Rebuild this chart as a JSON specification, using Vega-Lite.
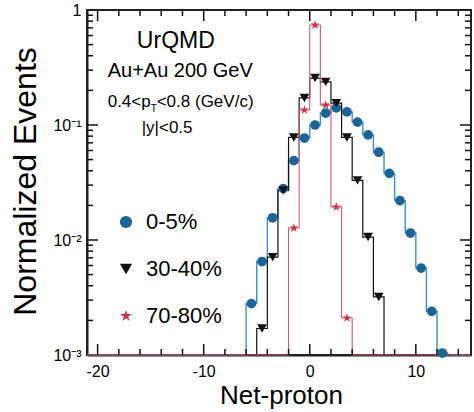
{
  "$schema": "https://vega.github.io/schema/vega-lite/v6.json",
  "width": 384,
  "height": 345,
  "autosize": "none",
  "padding": {"left": 87, "top": 10, "right": 3, "bottom": 57},
  "background": "white",
  "config": {
    "font": "Liberation Sans",
    "view": {"stroke": "#222222", "strokeWidth": 2},
    "axis": {"domainColor": "#222222", "domainWidth": 2, "tickColor": "black", "labelColor": "black", "titleColor": "black", "labelFont": "Liberation Sans", "titleFont": "Liberation Sans", "titleFontWeight": "normal", "grid": false},
    "text": {"font": "Liberation Sans", "color": "black"}
  },
  "datasets": {
    "hist": [
      {"series": "0-5%", "x": -21, "y": 0.001},
      {"series": "0-5%", "x": -6.5, "y": 0.001},
      {"series": "0-5%", "x": -5.5, "y": 0.0028},
      {"series": "0-5%", "x": -4.5, "y": 0.0065},
      {"series": "0-5%", "x": -3.5, "y": 0.0156},
      {"series": "0-5%", "x": -2.5, "y": 0.028},
      {"series": "0-5%", "x": -1.5, "y": 0.049},
      {"series": "0-5%", "x": -0.5, "y": 0.077},
      {"series": "0-5%", "x": 0.5, "y": 0.1},
      {"series": "0-5%", "x": 1.5, "y": 0.127},
      {"series": "0-5%", "x": 2.5, "y": 0.141},
      {"series": "0-5%", "x": 3.5, "y": 0.13},
      {"series": "0-5%", "x": 4.5, "y": 0.106},
      {"series": "0-5%", "x": 5.5, "y": 0.082},
      {"series": "0-5%", "x": 6.5, "y": 0.058},
      {"series": "0-5%", "x": 7.5, "y": 0.038},
      {"series": "0-5%", "x": 8.5, "y": 0.022},
      {"series": "0-5%", "x": 9.5, "y": 0.0115},
      {"series": "0-5%", "x": 10.5, "y": 0.0057},
      {"series": "0-5%", "x": 11.5, "y": 0.0024},
      {"series": "0-5%", "x": 12.5, "y": 0.00104},
      {"series": "0-5%", "x": 13.5, "y": 0.001},
      {"series": "0-5%", "x": 15.2, "y": 0.001},
      {"series": "30-40%", "x": -21, "y": 0.001},
      {"series": "30-40%", "x": -5.5, "y": 0.001},
      {"series": "30-40%", "x": -4.5, "y": 0.0017},
      {"series": "30-40%", "x": -3.5, "y": 0.0071},
      {"series": "30-40%", "x": -2.5, "y": 0.027},
      {"series": "30-40%", "x": -1.5, "y": 0.078},
      {"series": "30-40%", "x": -0.5, "y": 0.172},
      {"series": "30-40%", "x": 0.5, "y": 0.256},
      {"series": "30-40%", "x": 1.5, "y": 0.237},
      {"series": "30-40%", "x": 2.5, "y": 0.155},
      {"series": "30-40%", "x": 3.5, "y": 0.078},
      {"series": "30-40%", "x": 4.5, "y": 0.033},
      {"series": "30-40%", "x": 5.5, "y": 0.0106},
      {"series": "30-40%", "x": 6.5, "y": 0.0032},
      {"series": "30-40%", "x": 7.5, "y": 0.001},
      {"series": "30-40%", "x": 15.2, "y": 0.001},
      {"series": "70-80%", "x": -21, "y": 0.001},
      {"series": "70-80%", "x": -2.5, "y": 0.001},
      {"series": "70-80%", "x": -1.5, "y": 0.0127},
      {"series": "70-80%", "x": -0.5, "y": 0.135},
      {"series": "70-80%", "x": 0.5, "y": 0.74},
      {"series": "70-80%", "x": 1.5, "y": 0.149},
      {"series": "70-80%", "x": 2.5, "y": 0.0194},
      {"series": "70-80%", "x": 3.5, "y": 0.0021},
      {"series": "70-80%", "x": 4.5, "y": 0.001},
      {"series": "70-80%", "x": 15.2, "y": 0.001}
    ],
    "xticks": [
      {"v": -20, "k": "major"}, {"v": -18, "k": "minor"}, {"v": -16, "k": "minor"}, {"v": -14, "k": "minor"}, {"v": -12, "k": "minor"},
      {"v": -10, "k": "major"}, {"v": -8, "k": "minor"}, {"v": -6, "k": "minor"}, {"v": -4, "k": "minor"}, {"v": -2, "k": "minor"},
      {"v": 0, "k": "major"}, {"v": 2, "k": "minor"}, {"v": 4, "k": "minor"}, {"v": 6, "k": "minor"}, {"v": 8, "k": "minor"},
      {"v": 10, "k": "major"}, {"v": 12, "k": "minor"}, {"v": 14, "k": "minor"}
    ],
    "yticks": [
      {"v": 0.002, "k": "minor"}, {"v": 0.003, "k": "minor"}, {"v": 0.004, "k": "minor"}, {"v": 0.005, "k": "minor"}, {"v": 0.006, "k": "minor"}, {"v": 0.007, "k": "minor"}, {"v": 0.008, "k": "minor"}, {"v": 0.009, "k": "minor"},
      {"v": 0.01, "k": "major"},
      {"v": 0.02, "k": "minor"}, {"v": 0.03, "k": "minor"}, {"v": 0.04, "k": "minor"}, {"v": 0.05, "k": "minor"}, {"v": 0.06, "k": "minor"}, {"v": 0.07, "k": "minor"}, {"v": 0.08, "k": "minor"}, {"v": 0.09, "k": "minor"},
      {"v": 0.1, "k": "major"},
      {"v": 0.2, "k": "minor"}, {"v": 0.3, "k": "minor"}, {"v": 0.4, "k": "minor"}, {"v": 0.5, "k": "minor"}, {"v": 0.6, "k": "minor"}, {"v": 0.7, "k": "minor"}, {"v": 0.8, "k": "minor"}, {"v": 0.9, "k": "minor"}
    ]
  },
  "data": {"name": "hist"},
  "encoding": {
    "x": {"type": "quantitative", "scale": {"domain": [-21, 15.2], "nice": false, "zero": false}},
    "y": {"type": "quantitative", "scale": {"type": "log", "domain": [0.001, 1], "nice": false}}
  },
  "layer": [
    {
      "transform": [{"filter": "datum.series == '0-5%'"}],
      "mark": {"type": "line", "interpolate": "step", "color": "#3a90cc", "strokeWidth": 1.4},
      "encoding": {
        "x": {"field": "x", "type": "quantitative",
          "axis": {"orient": "bottom", "values": [-20, -10, 0, 10], "labelOverlap": false, "labelExpr": "datum.value < 0 ? '-' + abs(datum.value) : '' + datum.value", "ticks": false, "domain": true, "labelFontSize": 16, "labelPadding": 8, "title": "Net-proton", "titleFontSize": 26, "titleX": 194, "titleY": 40, "titleBaseline": "middle", "titleAlign": "center"}},
        "y": {"field": "y", "type": "quantitative",
          "axis": {"orient": "left", "values": [0.001, 0.01, 0.1, 1], "labelOverlap": false, "ticks": false, "domain": true, "labelFontSize": 16, "labelPadding": 6, "labelExpr": "datum.value >= 0.99 ? '1' : datum.value >= 0.099 ? '10⁻¹' : datum.value >= 0.0099 ? '10⁻²' : '10⁻³'", "title": "Normalized Events", "titleFontSize": 32, "titleX": -61.5, "titleY": 171, "titleAngle": -90, "titleBaseline": "middle", "titleAlign": "center"}}
      }
    },
    {
      "transform": [{"filter": "datum.series == '30-40%'"}],
      "mark": {"type": "line", "interpolate": "step", "color": "#111111", "strokeWidth": 1.2},
      "encoding": {
        "x": {"field": "x", "type": "quantitative"},
        "y": {"field": "y", "type": "quantitative"}
      }
    },
    {
      "transform": [{"filter": "datum.series == '70-80%'"}],
      "mark": {"type": "line", "interpolate": "step", "color": "#d45a6e", "strokeWidth": 1.1},
      "encoding": {
        "x": {"field": "x", "type": "quantitative"},
        "y": {"field": "y", "type": "quantitative"}
      }
    },
    {
      "data": {"name": "xticks"},
      "mark": {"type": "tick", "orient": "vertical", "thickness": 1.5, "color": "#111111", "opacity": 1, "clip": true},
      "encoding": {
        "x": {"field": "v", "type": "quantitative"},
        "y": {"datum": 0.001, "type": "quantitative"},
        "size": {"field": "k", "type": "ordinal", "scale": {"domain": ["major", "minor"], "range": [22, 12]}, "legend": null}
      }
    },
    {
      "data": {"name": "xticks"},
      "mark": {"type": "tick", "orient": "vertical", "thickness": 1.5, "color": "#111111", "opacity": 1, "clip": true},
      "encoding": {
        "x": {"field": "v", "type": "quantitative"},
        "y": {"datum": 1, "type": "quantitative"},
        "size": {"field": "k", "type": "ordinal", "scale": {"domain": ["major", "minor"], "range": [22, 12]}, "legend": null}
      }
    },
    {
      "data": {"name": "yticks"},
      "mark": {"type": "tick", "orient": "horizontal", "thickness": 1.5, "color": "#111111", "opacity": 1, "clip": true},
      "encoding": {
        "y": {"field": "v", "type": "quantitative"},
        "x": {"datum": -21, "type": "quantitative"},
        "size": {"field": "k", "type": "ordinal", "scale": {"domain": ["major", "minor"], "range": [22, 12]}, "legend": null}
      }
    },
    {
      "data": {"name": "yticks"},
      "mark": {"type": "tick", "orient": "horizontal", "thickness": 1.5, "color": "#111111", "opacity": 1, "clip": true},
      "encoding": {
        "y": {"field": "v", "type": "quantitative"},
        "x": {"datum": 15.2, "type": "quantitative"},
        "size": {"field": "k", "type": "ordinal", "scale": {"domain": ["major", "minor"], "range": [22, 12]}, "legend": null}
      }
    },
    {
      "data": {"values": [{}]},
      "mark": {"type": "rule", "color": "#222222", "strokeWidth": 2},
      "encoding": {"y": {"datum": 1, "type": "quantitative"}}
    },
    {
      "data": {"values": [{}]},
      "mark": {"type": "rule", "color": "#222222", "strokeWidth": 2},
      "encoding": {"x": {"datum": 15.2, "type": "quantitative"}}
    },
    {
      "transform": [{"filter": "datum.y > 0.001"}],
      "mark": {"type": "point", "filled": true, "opacity": 1, "size": 95},
      "encoding": {
        "x": {"field": "x", "type": "quantitative"},
        "y": {"field": "y", "type": "quantitative"},
        "color": {"field": "series", "type": "nominal", "scale": {"domain": ["0-5%", "30-40%", "70-80%"], "range": ["#1d6496", "#111111", "#cc3350"]},
          "legend": {"orient": "none", "legendX": 28, "legendY": 201, "title": null, "labelFontSize": 22, "labelFont": "Liberation Sans", "labelColor": "black", "symbolSize": 150, "rowPadding": 25, "labelOffset": 9, "padding": 0, "symbolStrokeWidth": 0}},
        "shape": {"field": "series", "type": "nominal", "scale": {"domain": ["0-5%", "30-40%", "70-80%"], "range": ["circle", "triangle-down", "M0,-1L0.2245,-0.309L0.951,-0.309L0.363,0.118L0.588,0.809L0,0.382L-0.588,0.809L-0.363,0.118L-0.951,-0.309L-0.2245,-0.309Z"]},
          "legend": {"orient": "none", "legendX": 28, "legendY": 201, "title": null, "labelFontSize": 22, "labelFont": "Liberation Sans", "labelColor": "black", "symbolSize": 150, "rowPadding": 25, "labelOffset": 9, "padding": 0, "symbolStrokeWidth": 0}}
      }
    },
    {
      "data": {"values": [{}]},
      "mark": {"type": "text", "text": "UrQMD", "fontSize": 23, "align": "left", "baseline": "alphabetic"},
      "encoding": {
        "x": {"datum": -16.3, "type": "quantitative"},
        "y": {"datum": 0.467, "type": "quantitative"}
      }
    },
    {
      "data": {"values": [{}]},
      "mark": {"type": "text", "text": "Au+Au 200 GeV", "fontSize": 20, "align": "left", "baseline": "alphabetic"},
      "encoding": {
        "x": {"datum": -19.05, "type": "quantitative"},
        "y": {"datum": 0.261, "type": "quantitative"}
      }
    },
    {
      "data": {"values": [{}]},
      "mark": {"type": "text", "text": "0.4<p", "fontSize": 17, "align": "left", "baseline": "alphabetic"},
      "encoding": {
        "x": {"datum": -19.05, "type": "quantitative"},
        "y": {"datum": 0.1435, "type": "quantitative"}
      }
    },
    {
      "data": {"values": [{}]},
      "mark": {"type": "text", "text": "T", "fontSize": 10, "align": "left", "baseline": "alphabetic"},
      "encoding": {
        "x": {"datum": -15.0, "type": "quantitative"},
        "y": {"datum": 0.13, "type": "quantitative"}
      }
    },
    {
      "data": {"values": [{}]},
      "mark": {"type": "text", "text": "<0.8 (GeV/c)", "fontSize": 17, "align": "left", "baseline": "alphabetic"},
      "encoding": {
        "x": {"datum": -14.43, "type": "quantitative"},
        "y": {"datum": 0.1435, "type": "quantitative"}
      }
    },
    {
      "data": {"values": [{}]},
      "mark": {"type": "text", "text": "|y|<0.5", "fontSize": 17, "align": "left", "baseline": "alphabetic"},
      "encoding": {
        "x": {"datum": -15.85, "type": "quantitative"},
        "y": {"datum": 0.0852, "type": "quantitative"}
      }
    }
  ]
}
